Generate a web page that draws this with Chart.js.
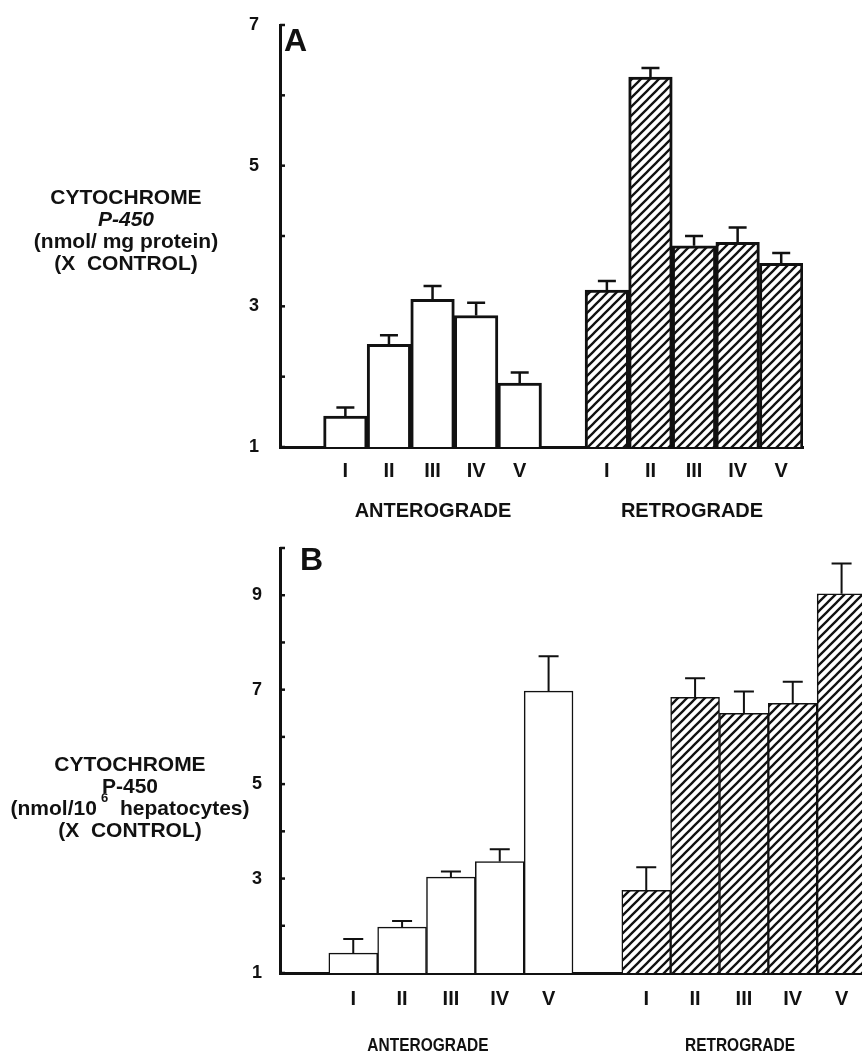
<!DOCTYPE html>
<html lang="en">
<head>
<meta charset="UTF-8" />
<title>Cytochrome P-450 (X control)</title>
<script src="https://cdn.jsdelivr.net/npm/chart.js@4.4.1/dist/chart.umd.min.js"></script>
<style>
    html, body {
        margin: 0;
        padding: 0;
        background: #fff;
        width: 862px;
        height: 1054px;
        overflow: hidden;
        position: relative;
        font-family: 'Liberation Sans', Arial, sans-serif;
        font-weight: bold;
        color: #111;
    }
    canvas { position: absolute; left: 0; }
    #chartA { top: 0; }
    #chartB { top: 530px; }

    .ylab {
        position: absolute;
        width: 260px;
        text-align: center;
        font-size: 21px;
        line-height: 22px;
        white-space: nowrap;
    }
    .ylab sup {
        font-size: 13px;
        line-height: 0;
        position: relative;
        top: -5px;
    }
    .panel {
        position: absolute;
        font-size: 32px;
        line-height: 32px;
    }
    .group {
        position: absolute;
        white-space: nowrap;
    }
    .groupA { font-size: 20px; transform: translate(-50%, -50%); }
    .groupB { font-size: 18px; transform: translate(-50%, -50%) scaleX(0.86); }
</style>
</head>
<body>

<canvas id="chartA" width="862" height="530"></canvas>
<canvas id="chartB" width="870" height="524"></canvas>

<!-- panel letters -->
<div class="panel" style="left:284px; top:24px;">A</div>
<div class="panel" style="left:300px; top:543px;">B</div>

<!-- y axis titles -->
<div class="ylab" style="left:-4px; top:186px;">
    CYTOCHROME<br><i>P-450</i><br>(nmol/&nbsp;mg&nbsp;protein)<br>(X&nbsp;&nbsp;CONTROL)
</div>
<div class="ylab" style="left:0px; top:753px;">
    CYTOCHROME<br>P-450<br>(nmol/10&thinsp;<sup>6</sup>&nbsp;&nbsp;hepatocytes)<br>(X&nbsp;&nbsp;CONTROL)
</div>

<!-- group labels -->
<div class="group groupA" style="left:433px; top:510px;">ANTEROGRADE</div>
<div class="group groupA" style="left:692px; top:510px;">RETROGRADE</div>
<div class="group groupB" style="left:428px; top:1045px;">ANTEROGRADE</div>
<div class="group groupB" style="left:740px; top:1045px;">RETROGRADE</div>

<script>
    // stage labels under each bar
    const stages = ['I', 'II', 'III', 'IV', 'V'];

    // Panel A: nmol / mg protein (x control)
    const antA = [1.44, 2.46, 3.10, 2.87, 1.91];
    const antA_sem = [0.12, 0.13, 0.19, 0.18, 0.15];
    const retA = [3.23, 6.26, 3.86, 3.91, 3.61];
    const retA_sem = [0.13, 0.13, 0.14, 0.21, 0.15];
    const ticksA = [1, 3, 5, 7];

    // Panel B: nmol / 10^6 hepatocytes (x control)
    const antB = [1.42, 1.97, 3.03, 3.36, 6.97];
    const antB_sem = [0.30, 0.13, 0.12, 0.26, 0.74];
    const retB = [2.75, 6.84, 6.50, 6.71, 9.03];
    const retB_sem = [0.49, 0.40, 0.46, 0.46, 0.64];
    const ticksB = [1, 3, 5, 7, 9];

    const INK = '#111';
    const FONT = "'Liberation Sans', Arial, sans-serif";

    // diagonal "/" hatching for the retrograde bars
    function hatch() {
        const n = 9;
        const c = document.createElement('canvas');
        c.width = n; c.height = n;
        const g = c.getContext('2d');
        g.fillStyle = '#fff';
        g.fillRect(0, 0, n, n);
        g.strokeStyle = INK;
        g.lineWidth = 2.3;
        g.beginPath();
        g.moveTo(0, n); g.lineTo(n, 0);
        g.moveTo(-3, 3); g.lineTo(3, -3);
        g.moveTo(n - 3, n + 3); g.lineTo(n + 3, n - 3);
        g.stroke();
        return g.createPattern(c, 'repeat');
    }
    const hatchPattern = hatch();

    // error bars (upper half only) + short inward ticks on the y axis
    const errorBars = {
        id: 'errorBars',
        afterDatasetsDraw(chart) {
            const {ctx, chartArea, scales: {y}} = chart;
            const ds = chart.data.datasets[0];
            const meta = chart.getDatasetMeta(0);
            ctx.save();
            ctx.strokeStyle = INK;
            ctx.lineWidth = ds.errWidth;
            ds.data.forEach((v, i) => {
                if (v == null) return;
                const x = meta.data[i].x;
                const y0 = y.getPixelForValue(v);
                const y1 = y.getPixelForValue(v + ds.sem[i]);
                ctx.beginPath();
                ctx.moveTo(x, y0);
                ctx.lineTo(x, y1);
                ctx.moveTo(x - ds.cap / 2, y1);
                ctx.lineTo(x + ds.cap / 2, y1);
                ctx.stroke();
            });
            ctx.lineWidth = 2.5;
            y.ticks.forEach(t => {
                const py = y.getPixelForValue(t.value);
                ctx.beginPath();
                ctx.moveTo(chartArea.left, py);
                ctx.lineTo(chartArea.left + 5, py);
                ctx.stroke();
            });
            ctx.restore();
        }
    };

    function makePanel(id, o) {
        const labels = [''].concat(stages, [''], stages);
        const values = [null].concat(o.ant, [null], o.ret);
        const sem = [null].concat(o.antSem, [null], o.retSem);

        return new Chart(document.getElementById(id), {
            type: 'bar',
            data: {
                labels: labels,
                datasets: [{
                    data: values,
                    sem: sem,
                    cap: o.cap,
                    errWidth: o.errWidth,
                    backgroundColor: c => c.dataIndex > 6 ? hatchPattern : '#fff',
                    borderColor: INK,
                    borderWidth: o.barBorder,
                    borderSkipped: 'bottom',
                    barPercentage: 1,
                    categoryPercentage: 1
                }]
            },
            options: {
                responsive: false,
                animation: false,
                devicePixelRatio: 1,
                layout: { padding: o.padding },
                plugins: { legend: { display: false }, tooltip: { enabled: false } },
                scales: {
                    x: {
                        afterFit: s => { s.height = 40; },
                        border: { color: INK, width: 3 },
                        grid: { display: true, drawOnChartArea: false, drawTicks: false },
                        ticks: {
                            color: INK,
                            padding: o.xPad,
                            autoSkip: false,
                            maxRotation: 0,
                            font: { family: FONT, weight: 'bold', size: 20 }
                        }
                    },
                    y: {
                        min: o.min,
                        max: o.max,
                        afterFit: s => { s.width = 280; s.paddingTop = 0; },
                        border: { color: INK, width: 3 },
                        grid: { display: true, drawOnChartArea: false, drawTicks: false },
                        ticks: {
                            stepSize: 1,
                            color: INK,
                            padding: o.yPad,
                            font: { family: FONT, weight: 'bold', size: 18 },
                            callback: v => o.labelled.includes(v) ? String(v) : ''
                        }
                    }
                }
            },
            plugins: [errorBars]
        });
    }

    makePanel('chartA', {
        ant: antA, antSem: antA_sem, ret: retA, retSem: retA_sem,
        min: 1, max: 7, labelled: ticksA,
        padding: { top: 25, right: 59, bottom: 43, left: 0 },
        xPad: 12, yPad: 21, barBorder: 3, errWidth: 2.5, cap: 18
    });

    makePanel('chartB', {
        ant: antB, antSem: antB_sem, ret: retB, retSem: retB_sem,
        min: 1, max: 10, labelled: ticksB,
        padding: { top: 18, right: 4, bottom: 41, left: 0 },
        xPad: 14, yPad: 18, barBorder: 1.5, errWidth: 2, cap: 20
    });
</script>
</body>
</html>
